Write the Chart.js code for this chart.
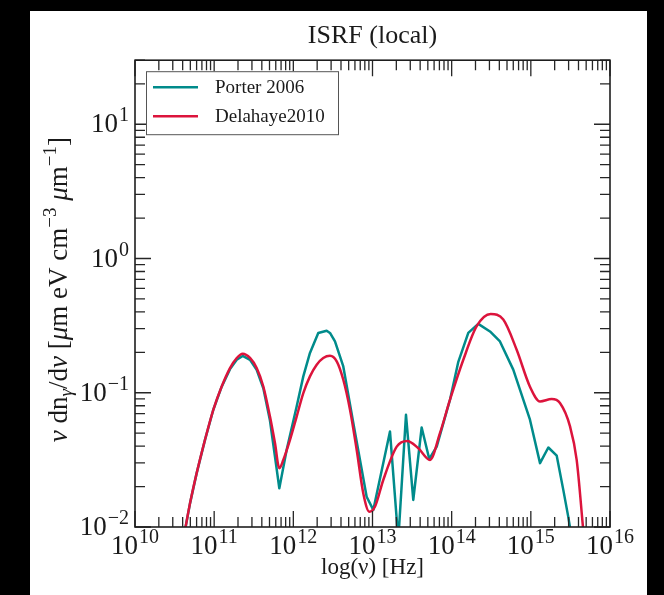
<!DOCTYPE html>
<html><head><meta charset="utf-8">
<script src="https://cdn.jsdelivr.net/npm/chart.js@4"></script>
<style>
html,body{margin:0;padding:0;background:#000;width:664px;height:595px;overflow:hidden}
#wrap{position:absolute;left:30px;top:11px;width:617px;height:584px;background:#fff}
canvas{display:block}
</style></head><body>
<div id="wrap"><canvas id="c" width="617" height="584"></canvas></div>
<script>
// ---- data ----
const titleText = 'ISRF (local)';
const xTitleText = 'log(ν) [Hz]';
const seriesNames = ['Porter 2006', 'Delahaye2010'];

// log10(frequency / Hz)
const porterLogNu = [10.632, 10.695, 10.779, 10.884, 10.989, 11.095, 11.200, 11.285, 11.360, 11.453, 11.537, 11.621, 11.705, 11.768, 11.823, 11.916, 12.042, 12.126, 12.210, 12.315, 12.421, 12.463, 12.526, 12.631, 12.757, 12.926, 13.010, 13.221, 13.326, 13.423, 13.515, 13.621, 13.717, 13.811, 13.979, 14.084, 14.210, 14.336, 14.484, 14.610, 14.778, 14.989, 15.116, 15.221, 15.327, 15.410, 15.473, 15.520];
const porterVal   = [0.0095, 0.0150, 0.0252, 0.0446, 0.0747, 0.111, 0.150, 0.176, 0.188, 0.176, 0.148, 0.108, 0.062, 0.0335, 0.0194, 0.0376, 0.079, 0.1324, 0.198, 0.279, 0.290, 0.279, 0.241, 0.157, 0.0597, 0.0168, 0.0134, 0.0514, 0.008, 0.0685, 0.0159, 0.0551, 0.0321, 0.0397, 0.0887, 0.170, 0.279, 0.326, 0.286, 0.241, 0.1486, 0.063, 0.0299, 0.0391, 0.034, 0.0189, 0.0119, 0.008];

const delahayeLogNu = [10.632, 10.695, 10.779, 10.884, 10.989, 11.095, 11.200, 11.285, 11.360, 11.453, 11.537, 11.621, 11.705, 11.768, 11.823, 11.873, 11.958, 12.042, 12.126, 12.210, 12.295, 12.378, 12.463, 12.548, 12.631, 12.716, 12.800, 12.884, 12.960, 13.032, 13.136, 13.306, 13.439, 13.579, 13.726, 13.852, 13.979, 14.147, 14.316, 14.493, 14.652, 14.821, 14.989, 15.116, 15.263, 15.368, 15.495, 15.579, 15.662];
const delahayeVal   = [0.0095, 0.0150, 0.0252, 0.0446, 0.0747, 0.1114, 0.1528, 0.1816, 0.1954, 0.1816, 0.1528, 0.1114, 0.0665, 0.0422, 0.0274, 0.0316, 0.0446, 0.0665, 0.0995, 0.1324, 0.1618, 0.1816, 0.1888, 0.1714, 0.125, 0.0747, 0.0376, 0.0178, 0.0130, 0.0142, 0.0224, 0.0397, 0.0438, 0.0386, 0.0316, 0.050, 0.0887, 0.176, 0.313, 0.386, 0.351, 0.209, 0.111, 0.0861, 0.0897, 0.0838, 0.0561, 0.0316, 0.0095];

// axis decades (tick labels are 10^n)
const xTickExps = [10, 11, 12, 13, 14, 15, 16];
const yTickExps = [-2, -1, 0, 1];
const yMax = 30;

// ---- rendering ----
const FONT = '"Liberation Serif", "DejaVu Serif", serif';
const TXT = '#1a1a1a';

function supText(n){ return n < 0 ? '\u2212' + Math.abs(n) : String(n); }

function drawPow(ctx, exp, x, y, align){
  const base = '10', e = supText(exp);
  ctx.font = '27px ' + FONT; const wb = ctx.measureText(base).width;
  ctx.font = '20px ' + FONT; const we = ctx.measureText(e).width;
  const w = wb + 1 + we;
  const x0 = align === 'center' ? x - w/2 : x - w;
  ctx.textAlign = 'left'; ctx.textBaseline = 'alphabetic'; ctx.fillStyle = TXT;
  ctx.font = '27px ' + FONT; ctx.fillText(base, x0, y);
  ctx.font = '20px ' + FONT; ctx.fillText(e, x0 + wb + 1, y - 11);
}

const yTitleParts = [
  ['ν','i'],[' dn','n'],['γ','sub'],['/d','n'],['ν','i'],[' [','n'],['μ','i'],['m eV cm','n'],
  ['\u22123','sup'],[' ','n'],['μ','i'],['m','n'],['\u22121','sup'],[']','n']
];
function partFont(kind){
  if (kind === 'i') return 'italic 27px ' + FONT;
  if (kind === 'sub') return 'italic 19px ' + FONT;
  if (kind === 'sup') return '19px ' + FONT;
  return '27px ' + FONT;
}

const mplAxes = {
  id: 'mplAxes',
  afterDatasetsDraw(chart){
    const ctx = chart.ctx, a = chart.chartArea, xs = chart.scales.x, ys = chart.scales.y;
    ctx.save();
    // ticks (inward, all four sides)
    ctx.strokeStyle = '#262626'; ctx.lineWidth = 1.3;
    ctx.beginPath();
    for (let i = 0; i < xTickExps.length; i++){
      const n = xTickExps[i];
      for (let k = 1; k <= 9; k++){
        if (i === xTickExps.length - 1 && k > 1) break;
        const px = xs.getPixelForValue(k * Math.pow(10, n));
        const L = k === 1 ? 16 : 10;
        ctx.moveTo(px, a.bottom); ctx.lineTo(px, a.bottom - L);
        ctx.moveTo(px, a.top); ctx.lineTo(px, a.top + L);
      }
    }
    for (let i = 0; i < yTickExps.length; i++){
      const n = yTickExps[i];
      for (let k = 1; k <= 9; k++){
        const v = k * Math.pow(10, n);
        if (v > yMax * 1.0001) break;
        const py = ys.getPixelForValue(v);
        const L = k === 1 ? 16 : 10;
        ctx.moveTo(a.left, py); ctx.lineTo(a.left + L, py);
        ctx.moveTo(a.right, py); ctx.lineTo(a.right - L, py);
      }
    }
    ctx.stroke();
    // frame
    ctx.lineWidth = 1.6; ctx.strokeStyle = '#1e1e1e';
    ctx.strokeRect(a.left, a.top, a.right - a.left, a.bottom - a.top);
    // tick labels
    xTickExps.forEach(n => drawPow(ctx, n, xs.getPixelForValue(Math.pow(10, n)), a.bottom + 27, 'center'));
    yTickExps.forEach(n => drawPow(ctx, n, a.left - 6, ys.getPixelForValue(Math.pow(10, n)) + 8, 'right'));
    // y-axis title (rotated, with sub/superscripts)
    let total = 0;
    yTitleParts.forEach(p => { ctx.font = partFont(p[1]); total += ctx.measureText(p[0]).width; });
    ctx.translate(37, (a.top + a.bottom) / 2 - 4);
    ctx.rotate(-Math.PI / 2);
    ctx.fillStyle = TXT; ctx.textAlign = 'left'; ctx.textBaseline = 'alphabetic';
    let cx = -total / 2;
    yTitleParts.forEach(p => {
      ctx.font = partFont(p[1]);
      const dy = p[1] === 'sub' ? 5 : (p[1] === 'sup' ? -11 : 0);
      ctx.fillText(p[0], cx, dy);
      cx += ctx.measureText(p[0]).width;
    });
    ctx.restore();
    // legend box
    ctx.save();
    const lx = a.left + 11, ly = a.top + 11, lw = 192, lh = 63;
    ctx.fillStyle = '#fff'; ctx.fillRect(lx, ly, lw, lh);
    ctx.strokeStyle = '#555'; ctx.lineWidth = 1; ctx.strokeRect(lx + 0.5, ly + 0.5, lw, lh);
    const order = [0, 1];
    order.forEach((di, r) => {
      const ds = chart.data.datasets[di];
      const yy = ly + 16 + r * 29;
      ctx.strokeStyle = ds.borderColor; ctx.lineWidth = 2.5;
      ctx.beginPath(); ctx.moveTo(lx + 7, yy); ctx.lineTo(lx + 52, yy); ctx.stroke();
      ctx.fillStyle = TXT; ctx.font = '19px ' + FONT; ctx.textAlign = 'left'; ctx.textBaseline = 'alphabetic';
      ctx.fillText(ds.label, lx + 69, yy + 6);
    });
    ctx.restore();
  }
};

const toPts = (lx, vals) => lx.map((l, i) => ({x: Math.pow(10, l), y: vals[i]}));

new Chart(document.getElementById('c'), {
  type: 'line',
  data: {
    datasets: [
      {label: seriesNames[0], data: toPts(porterLogNu, porterVal), borderColor: '#008b8b', backgroundColor: '#008b8b',
       borderWidth: 2.5, pointRadius: 0, tension: 0, order: 1, borderJoinStyle: 'round'},
      {label: seriesNames[1], data: toPts(delahayeLogNu, delahayeVal), borderColor: '#dc143c', backgroundColor: '#dc143c',
       borderWidth: 2.5, pointRadius: 0, cubicInterpolationMode: 'monotone', order: 0}
    ]
  },
  options: {
    responsive: false, animation: false, devicePixelRatio: 1,
    layout: {padding: {left: 0, right: 37, top: 0, bottom: 0}},
    plugins: {
      legend: {display: false}, tooltip: {enabled: false},
      title: {display: true, text: titleText, fullSize: false, color: TXT,
              font: {family: FONT, size: 26, weight: 'normal'}, padding: {top: 10, bottom: 8}}
    },
    scales: {
      x: {type: 'logarithmic', min: Math.pow(10, xTickExps[0]), max: Math.pow(10, xTickExps[xTickExps.length-1]),
          grid: {display: false}, border: {display: false}, ticks: {display: false},
          title: {display: true, text: xTitleText, color: TXT, font: {family: FONT, size: 23}, padding: {top: 0, bottom: 13}},
          afterFit(s){ s.height = 68; }},
      y: {type: 'logarithmic', min: Math.pow(10, yTickExps[0]), max: yMax,
          grid: {display: false}, border: {display: false}, ticks: {display: false},
          afterFit(s){ s.width = 105; }}
    }
  },
  plugins: [mplAxes]
});
</script></body></html>
